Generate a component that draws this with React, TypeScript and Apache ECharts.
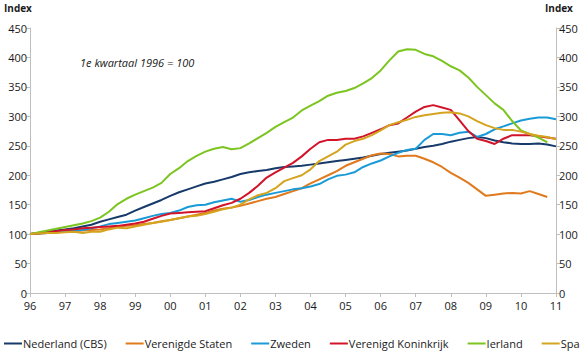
import React, { useEffect, useRef } from "react";
import * as echarts from "echarts";

const startYear = 1996;
const yearTicks = ["96","97","98","99","00","01","02","03","04","05","06","07","08","09","10","11"];
const seriesNames = ["Nederland (CBS)","Verenigde Staten","Zweden","Verenigd Koninkrijk","Ierland","Spanje"];
const colors = ["#173a6b","#e07a1c","#1a9bd7","#d2142a","#7cc520","#d5a41f"];

const nederland = [100,102,104,106, 108,110,113,116, 121,125,129,133, 140,146,152,158, 165,171,176,181, 186,189,193,197, 202,205,207,209, 212,214,215,216, 218,220,222,224, 226,228,230,233, 236,238,240,242, 245,248,250,253, 257,260,263,265, 263,259,256,254, 253,253,254,252, 249];
const verenigdeStaten = [100,101,102,103, 104,105,106,107, 108,110,112,114, 115,117,119,122, 124,127,130,133, 136,140,143,145, 148,152,156,160, 163,168,173,178, 186,193,200,207, 216,222,228,234, 237,236,232,233, 233,228,222,214, 204,196,187,176, 165,167,169,170, 169,173,168,163];
const zweden = [100,101,102,103, 105,106,107,110, 113,117,119,121, 123,127,131,134, 136,140,146,149, 150,154,157,160, 155,158,163,167, 170,173,176,178, 181,185,193,199, 201,205,214,220, 225,232,238,243, 245,260,270,270, 268,272,274,265, 270,278,283,288, 293,296,298,298, 295];
const verenigdKoninkrijk = [100,101,103,105, 107,108,110,111, 112,113,114,116, 118,121,126,131, 135,136,137,138, 139,144,149,153, 160,170,182,196, 205,213,221,232, 245,256,260,260, 262,262,266,272, 278,285,288,298, 308,316,319,315, 311,293,275,262, 258,253,262,268, 268,268,266,264, 262];
const ierland = [100,103,106,109, 112,115,118,122, 128,138,151,160, 167,173,179,187, 202,212,224,233, 240,245,248,244, 246,254,263,272, 282,290,298,310, 318,326,335,340, 343,348,356,365, 378,395,410,414, 413,406,402,394, 385,378,366,350, 336,322,311,292, 276,270,264,256];
const spanje = [100,101,102,102, 103,104,102,104, 104,108,111,110, 113,116,119,121, 124,127,130,131, 134,138,142,145, 150,159,166,170, 178,190,195,200, 210,224,232,240, 252,258,262,268, 276,285,290,294, 299,302,304,306, 307,305,300,292, 285,280,277,277, 274,270,267,265, 261];

const allSeries = [nederland, verenigdeStaten, zweden, verenigdKoninkrijk, ierland, spanje];

export default function App() {
  const ref = useRef<HTMLDivElement>(null);
  useEffect(() => {
    if (!ref.current) return;
    const chart = echarts.init(ref.current, null, { renderer: "svg" });
    const font = "'Open Sans', 'Noto Sans', sans-serif";
    const axisColor = "#bfbfbf";
    const yAxisBase = {
      type: "value" as const,
      min: 0,
      max: 450,
      interval: 50,
      splitLine: { show: false },
      axisLine: { show: true, lineStyle: { color: axisColor } },
      axisTick: { show: true, length: 4, lineStyle: { color: axisColor } },
      axisLabel: { color: "#1a1a1a", fontSize: 11, fontFamily: font, margin: 3 },
    };
    chart.setOption({
      animation: false,
      textStyle: { fontFamily: font },
      grid: { left: 30, right: 104, top: 28, bottom: 59, containLabel: false },
      xAxis: {
        type: "value",
        min: startYear,
        max: startYear + 15,
        interval: 1,
        splitLine: { show: false },
        axisLine: { show: true, lineStyle: { color: axisColor } },
        axisTick: { show: true, length: 4, lineStyle: { color: axisColor } },
        axisLabel: {
          color: "#1a1a1a",
          fontSize: 11,
          fontFamily: font,
          margin: 7,
          formatter: (v: number) => yearTicks[Math.round(v - startYear)] ?? "",
        },
      },
      yAxis: [
        { ...yAxisBase, position: "left" },
        { ...yAxisBase, position: "right" },
      ],
      legend: {
        left: 4,
        top: 338,
        itemWidth: 18,
        itemHeight: 2,
        itemGap: 19,
        icon: "rect",
        padding: 0,
        textStyle: { color: "#1a1a1a", fontSize: 11, fontFamily: font, padding: [0, 0, 0, -4] },
        data: seriesNames,
      },
      graphic: [
        { type: "text", left: 4, top: 3, style: { text: "Index", font: `bold 10px ${font}`, fill: "#1a1a1a" } },
        { type: "text", left: 545, top: 3, style: { text: "Index", font: `bold 10px ${font}`, fill: "#1a1a1a" } },
        { type: "text", left: 80, top: 57, style: { text: "1e kwartaal 1996 = 100", font: `italic 11px ${font}`, fill: "#1a1a1a" } },
      ],
      series: allSeries.map((vals, i) => ({
        name: seriesNames[i],
        type: "line",
        yAxisIndex: 0,
        showSymbol: false,
        symbol: "none",
        color: colors[i],
        lineStyle: { width: 2, color: colors[i] },
        data: vals.map((v, q) => [startYear + q / 4, v]),
        z: 2 + i,
      })),
    });
    return () => chart.dispose();
  }, []);
  return (
    <div style={{ position: "fixed", left: 0, top: 0, width: 580, height: 352, overflow: "hidden", background: "#fff" }}>
      <div ref={ref} style={{ width: 660, height: 352 }} />
    </div>
  );
}
